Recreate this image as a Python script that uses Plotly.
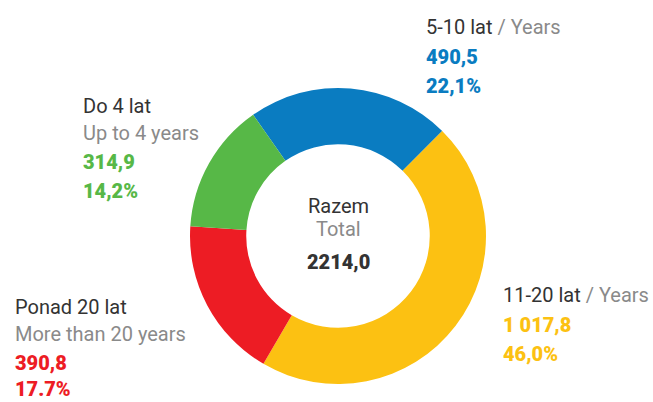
import plotly.graph_objects as go

# Data
labels_pl = ["5-10 lat", "11-20 lat", "Ponad 20 lat", "Do 4 lat"]
labels_en = ["/ Years", "/ Years", "More than 20 years", "Up to 4 years"]
values = [490.5, 1017.8, 390.8, 314.9]
value_labels = ["490,5", "1 017,8", "390,8", "314,9"]
pct_labels = ["22,1%", "46,0%", "17.7%", "14,2%"]
colors = ["#0A7CC1", "#FCC112", "#ED1C24", "#57B847"]
total_label = "2214,0"

W, H = 653, 402
DARK = "#333333"
GRAY = "#8a8a8a"
FONT = "Roboto"

cx, cy, R = 338, 236, 148

fig = go.Figure(go.Pie(
    labels=labels_pl,
    values=values,
    marker=dict(colors=colors, line=dict(width=0)),
    hole=0.62,
    sort=False,
    direction="clockwise",
    rotation=-35,
    textinfo="none",
    hoverinfo="skip",
    showlegend=False,
    domain=dict(x=[(cx - R) / W, (cx + R) / W], y=[(H - cy - R) / H, (H - cy + R) / H]),
))

def ann(text, x, y, color, size=20, bold=False, anchor="left", yanchor="middle"):
    fig.add_annotation(
        text=text, x=x / W, y=(H - y) / H, xref="paper", yref="paper",
        xanchor=anchor, yanchor=yanchor, showarrow=False, borderpad=0,
        font=dict(family=FONT, size=size, color=color, weight=900 if bold else 400),
    )

# label blocks: (x, y of first line)
blocks = [
    (425, 27, True),   # 5-10
    (502, 295, True),  # 11-20
    (14, 307, False),  # Ponad 20
    (82, 106, False),  # Do 4
]
for i, (x, y, inline) in enumerate(blocks):
    if inline:
        ann(f"{labels_pl[i]} <span style='color:{GRAY}'>{labels_en[i]}</span>", x, y, DARK)
        ann(value_labels[i], x, y + 29.5, colors[i], size=20, bold=True)
        ann(pct_labels[i], x, y + 58.5, colors[i], size=20, bold=True)
    else:
        ann(labels_pl[i], x, y, DARK)
        ann(labels_en[i], x, y + 26.5, GRAY)
        ann(value_labels[i], x, y + 55.5, colors[i], size=20, bold=True)
        if y + 84 > H - 12:
            ann(pct_labels[i], x, H, colors[i], size=20, bold=True, yanchor="bottom")
        else:
            ann(pct_labels[i], x, y + 84.5, colors[i], size=20, bold=True)

# center
ann("Razem", cx, 206, DARK, anchor="center")
ann("Total", cx, 229, GRAY, anchor="center")
ann(total_label, cx, 261.5, DARK, size=20, bold=True, anchor="center")

fig.update_layout(
    width=W, height=H,
    margin=dict(l=0, r=0, t=0, b=0),
    paper_bgcolor="white", plot_bgcolor="white",
)

fig.write_html(
    "out.html",
    config={"displayModeBar": False},
    post_script="document.body.style.margin='0';document.body.style.overflow='hidden';",
)
